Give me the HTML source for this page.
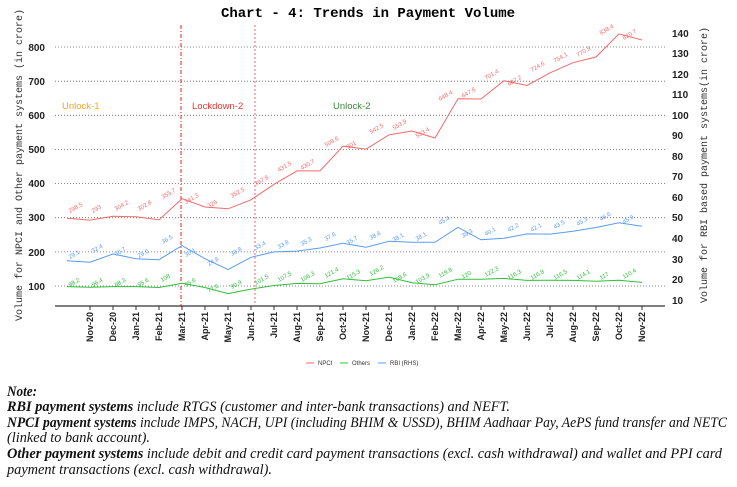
<!DOCTYPE html>
<html><head><meta charset="utf-8"><style>
body{margin:0;background:#fff;width:737px;height:487px;overflow:hidden}
svg{display:block}
.t{font-family:"Liberation Sans",sans-serif;font-weight:bold;font-size:10px;fill:#222}
.xl{font-family:"Liberation Sans",sans-serif;font-size:9px;fill:#222;font-weight:bold}
.pl{font-family:"Liberation Sans",sans-serif;font-size:6px}
.n{font-family:"Liberation Serif",serif;font-style:italic;font-size:14.5px;fill:#111}
</style></head><body>
<svg width="737" height="487" viewBox="0 0 737 487">
<text x="368" y="17" text-anchor="middle" font-family="Liberation Mono,monospace" font-weight="bold" font-size="14">Chart - 4: Trends in Payment Volume</text>
<g stroke="#666" stroke-dasharray="1,2" stroke-width="0.8">
<line x1="55" x2="665" y1="286" y2="286"/><line x1="55" x2="665" y1="251.9" y2="251.9"/><line x1="55" x2="665" y1="217.7" y2="217.7"/><line x1="55" x2="665" y1="183.6" y2="183.6"/><line x1="55" x2="665" y1="149.4" y2="149.4"/><line x1="55" x2="665" y1="115.3" y2="115.3"/><line x1="55" x2="665" y1="81.2" y2="81.2"/><line x1="55" x2="665" y1="47" y2="47"/>
</g>
<g class="t" text-anchor="end">
<text x="45" y="290">100</text><text x="45" y="256">200</text><text x="45" y="221">300</text><text x="45" y="187">400</text><text x="45" y="153">500</text><text x="45" y="119">600</text><text x="45" y="85">700</text><text x="45" y="51">800</text>
</g>
<g class="t">
<text x="672" y="304">10</text><text x="672" y="283">20</text><text x="672" y="263">30</text><text x="672" y="242">40</text><text x="672" y="221">50</text><text x="672" y="201">60</text><text x="672" y="180">70</text><text x="672" y="160">80</text><text x="672" y="139">90</text><text x="672" y="119">100</text><text x="672" y="98">110</text><text x="672" y="78">120</text><text x="672" y="57">130</text><text x="672" y="37">140</text>
</g>
<text transform="translate(22,165) rotate(-90)" text-anchor="middle" font-family="Liberation Mono,monospace" font-size="10" fill="#333">Volume for NPCI and Other payment systems (in crore)</text>
<text transform="translate(707,165) rotate(-90)" text-anchor="middle" font-family="Liberation Mono,monospace" font-size="10" fill="#333">Volume for RBI based payment systems(in crore)</text>
<line x1="55" x2="665" y1="306" y2="306" stroke="#333" stroke-width="1.2"/>
<g stroke="#333"><line x1="90" x2="90" y1="306" y2="310"/><line x1="113" x2="113" y1="306" y2="310"/><line x1="136" x2="136" y1="306" y2="310"/><line x1="159" x2="159" y1="306" y2="310"/><line x1="182" x2="182" y1="306" y2="310"/><line x1="205" x2="205" y1="306" y2="310"/><line x1="228" x2="228" y1="306" y2="310"/><line x1="251" x2="251" y1="306" y2="310"/><line x1="274" x2="274" y1="306" y2="310"/><line x1="297" x2="297" y1="306" y2="310"/><line x1="320" x2="320" y1="306" y2="310"/><line x1="343" x2="343" y1="306" y2="310"/><line x1="366" x2="366" y1="306" y2="310"/><line x1="389" x2="389" y1="306" y2="310"/><line x1="412" x2="412" y1="306" y2="310"/><line x1="435" x2="435" y1="306" y2="310"/><line x1="458" x2="458" y1="306" y2="310"/><line x1="481" x2="481" y1="306" y2="310"/><line x1="504" x2="504" y1="306" y2="310"/><line x1="527" x2="527" y1="306" y2="310"/><line x1="550" x2="550" y1="306" y2="310"/><line x1="573" x2="573" y1="306" y2="310"/><line x1="596" x2="596" y1="306" y2="310"/><line x1="619" x2="619" y1="306" y2="310"/><line x1="642" x2="642" y1="306" y2="310"/></g>
<g class="xl" text-anchor="end">
<text transform="translate(93,312) rotate(-90)">Nov-20</text><text transform="translate(116,312) rotate(-90)">Dec-20</text><text transform="translate(139,312) rotate(-90)">Jan-21</text><text transform="translate(162,312) rotate(-90)">Feb-21</text><text transform="translate(185,312) rotate(-90)">Mar-21</text><text transform="translate(208,312) rotate(-90)">Apr-21</text><text transform="translate(231,312) rotate(-90)">May-21</text><text transform="translate(254,312) rotate(-90)">Jun-21</text><text transform="translate(277,312) rotate(-90)">Jul-21</text><text transform="translate(300,312) rotate(-90)">Aug-21</text><text transform="translate(323,312) rotate(-90)">Sep-21</text><text transform="translate(346,312) rotate(-90)">Oct-21</text><text transform="translate(369,312) rotate(-90)">Nov-21</text><text transform="translate(392,312) rotate(-90)">Dec-21</text><text transform="translate(415,312) rotate(-90)">Jan-22</text><text transform="translate(438,312) rotate(-90)">Feb-22</text><text transform="translate(461,312) rotate(-90)">Mar-22</text><text transform="translate(484,312) rotate(-90)">Apr-22</text><text transform="translate(507,312) rotate(-90)">May-22</text><text transform="translate(530,312) rotate(-90)">Jun-22</text><text transform="translate(553,312) rotate(-90)">Jul-22</text><text transform="translate(576,312) rotate(-90)">Aug-22</text><text transform="translate(599,312) rotate(-90)">Sep-22</text><text transform="translate(622,312) rotate(-90)">Oct-22</text><text transform="translate(645,312) rotate(-90)">Nov-22</text>
</g>
<line x1="181" x2="181" y1="25" y2="306" stroke="#e22" stroke-width="1" stroke-dasharray="4,2,1,2"/>
<line x1="255" x2="255" y1="25" y2="306" stroke="#e44" stroke-width="0.8" stroke-dasharray="2,2"/>
<g font-family="Liberation Sans,sans-serif" font-size="9.5">
<text x="62" y="109" fill="#f5a623">Unlock-1</text>
<text x="192" y="109" fill="#e33">Lockdown-2</text>
<text x="333" y="109" fill="#3a8a3a">Unlock-2</text>
</g>
<polyline fill="none" stroke="#f46a6a" stroke-width="1" points="67,218.2 90,220.1 113,216.3 136,216.8 159,219.9 182,198.7 205,207 228,208.8 251,199.8 274,184.3 297,170.9 320,170.9 343,146.2 366,149.1 389,134.9 412,131 435,138 458,98.8 481,99 504,80.7 527,85.5 550,72.8 573,62.7 596,57 619,33.9 642,40"/>
<polyline fill="none" stroke="#2fbf3a" stroke-width="1" points="67,286.6 90,287.2 113,286.6 136,286.6 159,287.5 182,283.3 205,287.5 228,293.6 251,289.1 274,285.5 297,283.4 320,283.8 343,278.7 366,280.8 389,277.1 412,282.7 435,284.7 458,279.2 481,279.2 504,278.4 527,280.4 550,280.3 573,280.4 596,281.2 619,280.2 642,282.4"/>
<polyline fill="none" stroke="#5b9bf0" stroke-width="1" points="67,260.8 90,262.2 113,254 136,258.7 159,259.7 182,245.6 205,258.7 228,269.6 251,257.3 274,251.9 297,251.1 320,248 343,243.3 366,247.2 389,241.3 412,242.3 435,242.3 458,227.3 481,239.8 504,238.2 527,233.9 550,234.1 573,231.2 596,227.5 619,222.8 642,226.3"/>
<g class="pl" fill="#f46a6a">
<text transform="translate(70,213) rotate(-30)">298.5</text><text transform="translate(93,213) rotate(-30)">293</text><text transform="translate(116,211) rotate(-30)">304.2</text><text transform="translate(139,211) rotate(-30)">302.8</text><text transform="translate(163,199) rotate(-30)">355.7</text><text transform="translate(186,204) rotate(-30)">341.3</text><text transform="translate(209,208) rotate(-30)">326</text><text transform="translate(232,198) rotate(-30)">352.5</text><text transform="translate(256,186) rotate(-30)">397.8</text><text transform="translate(279,172) rotate(-30)">431.5</text><text transform="translate(302,170) rotate(-30)">430.7</text><text transform="translate(326,147) rotate(-30)">509.6</text><text transform="translate(348,149) rotate(-30)">501</text><text transform="translate(371,134) rotate(-30)">542.5</text><text transform="translate(394,130) rotate(-30)">553.9</text><text transform="translate(417,138) rotate(-30)">533.4</text><text transform="translate(440,101) rotate(-30)">648.4</text><text transform="translate(463,98) rotate(-30)">647.6</text><text transform="translate(486,80) rotate(-30)">701.4</text><text transform="translate(509,86) rotate(-30)">687.2</text><text transform="translate(532,72) rotate(-30)">724.6</text><text transform="translate(555,63) rotate(-30)">754.1</text><text transform="translate(578,57) rotate(-30)">770.9</text><text transform="translate(601,35) rotate(-30)">838.4</text><text transform="translate(624,40) rotate(-30)">820.7</text>
</g>
<g class="pl" fill="#2fbf3a">
<text transform="translate(70,287) rotate(-30)">98.2</text><text transform="translate(93,287) rotate(-30)">96.4</text><text transform="translate(116,287) rotate(-30)">98.3</text><text transform="translate(139,287) rotate(-30)">95.6</text><text transform="translate(162,282) rotate(-30)">108</text><text transform="translate(186,287) rotate(-30)">95.6</text><text transform="translate(209,293) rotate(-30)">77.6</text><text transform="translate(232,289) rotate(-30)">90.9</text><text transform="translate(256,285) rotate(-30)">101.5</text><text transform="translate(279,282) rotate(-30)">107.5</text><text transform="translate(302,282) rotate(-30)">106.3</text><text transform="translate(326,278) rotate(-30)">121.4</text><text transform="translate(348,280) rotate(-30)">115.3</text><text transform="translate(371,276) rotate(-30)">126.2</text><text transform="translate(394,283) rotate(-30)">109.6</text><text transform="translate(417,284) rotate(-30)">103.9</text><text transform="translate(440,278) rotate(-30)">119.8</text><text transform="translate(463,279) rotate(-30)">120</text><text transform="translate(486,277) rotate(-30)">122.3</text><text transform="translate(509,280) rotate(-30)">116.3</text><text transform="translate(532,280) rotate(-30)">116.8</text><text transform="translate(555,280) rotate(-30)">116.5</text><text transform="translate(578,280) rotate(-30)">114.1</text><text transform="translate(601,280) rotate(-30)">117</text><text transform="translate(624,279) rotate(-30)">110.4</text>
</g>
<g class="pl" fill="#5b9bf0">
<text transform="translate(70,259) rotate(-30)">29.1</text><text transform="translate(93,253) rotate(-30)">32.4</text><text transform="translate(116,256) rotate(-30)">30.7</text><text transform="translate(139,258) rotate(-30)">29.6</text><text transform="translate(163,244) rotate(-30)">36.5</text><text transform="translate(186,257) rotate(-30)">30.1</text><text transform="translate(209,266) rotate(-30)">24.8</text><text transform="translate(232,256) rotate(-30)">30.8</text><text transform="translate(256,250) rotate(-30)">33.4</text><text transform="translate(279,249) rotate(-30)">33.8</text><text transform="translate(302,246) rotate(-30)">35.3</text><text transform="translate(326,241) rotate(-30)">37.6</text><text transform="translate(348,245) rotate(-30)">35.7</text><text transform="translate(371,240) rotate(-30)">38.6</text><text transform="translate(394,242) rotate(-30)">38.1</text><text transform="translate(417,241) rotate(-30)">38.1</text><text transform="translate(440,225) rotate(-30)">45.4</text><text transform="translate(463,238) rotate(-30)">39.3</text><text transform="translate(486,236) rotate(-30)">40.1</text><text transform="translate(509,232) rotate(-30)">42.2</text><text transform="translate(532,232) rotate(-30)">42.1</text><text transform="translate(555,229) rotate(-30)">43.5</text><text transform="translate(578,226) rotate(-30)">45.3</text><text transform="translate(601,221) rotate(-30)">46.6</text><text transform="translate(624,224) rotate(-30)">45.9</text>
</g>
<g class="pl" fill="#333">
<line x1="306" x2="314" y1="363" y2="363" stroke="#f46a6a"/><text x="318" y="365">NPCI</text>
<line x1="340" x2="348" y1="363" y2="363" stroke="#2fbf3a"/><text x="352" y="365">Others</text>
<line x1="378" x2="386" y1="363" y2="363" stroke="#5b9bf0"/><text x="390" y="365">RBI (RHS)</text>
</g>
<g class="n">
<text x="7" y="396" font-weight="bold" textLength="30" lengthAdjust="spacingAndGlyphs">Note:</text>
<text x="7" y="411" textLength="503" lengthAdjust="spacingAndGlyphs"><tspan font-weight="bold">RBI payment systems</tspan> include RTGS (customer and inter-bank transactions) and NEFT.</text>
<text x="7" y="427" textLength="720" lengthAdjust="spacingAndGlyphs"><tspan font-weight="bold">NPCI payment systems</tspan> include IMPS, NACH, UPI (including BHIM &amp; USSD), BHIM Aadhaar Pay, AePS fund transfer and NETC</text>
<text x="7" y="442" textLength="143" lengthAdjust="spacingAndGlyphs">(linked to bank account).</text>
<text x="7" y="458" textLength="715" lengthAdjust="spacingAndGlyphs"><tspan font-weight="bold">Other payment systems</tspan> include debit and credit card payment transactions (excl. cash withdrawal) and wallet and PPI card</text>
<text x="7" y="474" textLength="265" lengthAdjust="spacingAndGlyphs">payment transactions (excl. cash withdrawal).</text>
</g>
</svg>
</body></html>
